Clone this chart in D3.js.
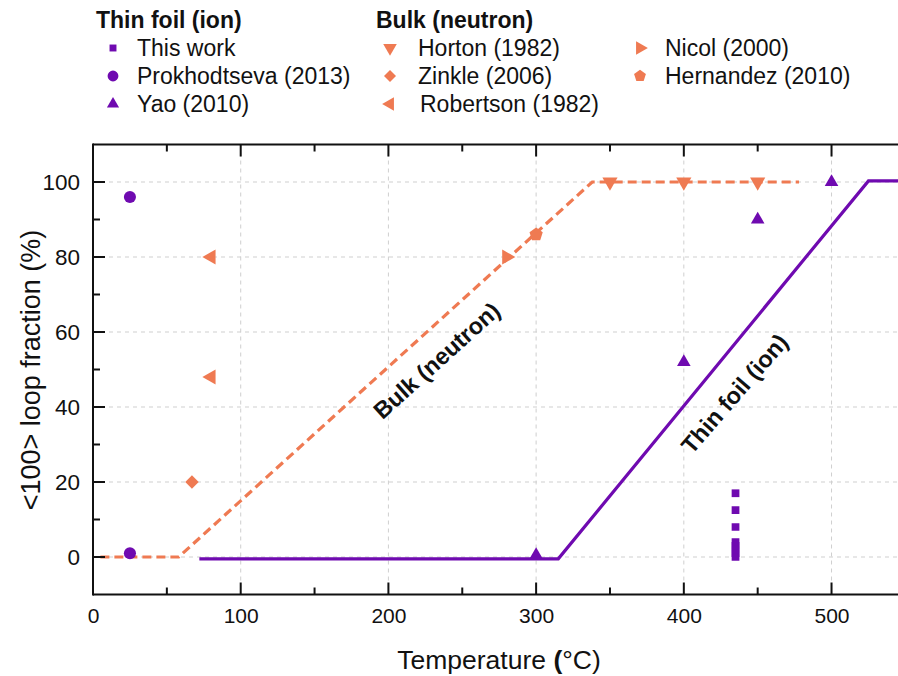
<!DOCTYPE html>
<html>
<head>
<meta charset="utf-8">
<script src="https://cdn.jsdelivr.net/npm/d3@7"></script>
<style>
  html, body { margin: 0; padding: 0; background: #fff; }
  svg { display: block; font-family: "Liberation Sans", Arial, sans-serif; }
</style>
</head>
<body>
<svg id="chart" width="898" height="676"></svg>
<script>
// ---- data ----
const xTicks = [0, 100, 200, 300, 400, 500];
const yTicks = [0, 20, 40, 60, 80, 100];

// thin foil (ion irradiation)
const thisWork = [[435, 0], [435, 1], [435, 2], [435, 3], [435, 4], [435, 8], [435, 12.5], [435, 17]];
const prokhodtseva = [[25, 96], [25, 1]];
const yao = [[300, 0.5], [400, 52], [450, 90], [500, 100]];

// bulk (neutron irradiation)
const horton = [[350, 100], [400, 100], [450, 100]];
const zinkle = [[67, 20]];
const robertson = [[80, 80], [80, 48]];
const nicol = [[280, 80]];
const hernandez = [[300, 86]];

// guide lines
const thinFoilTrend = [[72, -0.5], [315, -0.5], [525, 100.3], [560, 100.3]];
const bulkTrend = [[5, 0], [58, 0], [338, 100], [478, 100]];

const purple = "#6f0ab0";
const orange = "#ef7a52";

// ---- layout ----
const svg = d3.select("#chart");
const x = d3.scaleLinear().domain([0, 545]).range([93, 898]);
const y = d3.scaleLinear().domain([-10, 110]).range([594.5, 144.5]);

svg.append("defs").append("clipPath").attr("id", "plotClip")
  .append("rect").attr("x", 93).attr("y", 144.5).attr("width", 805).attr("height", 450);

// pentagon symbol
const symbolPentagon = {
  draw(ctx, size) {
    const r = Math.sqrt(size / 2.378);
    for (let i = 0; i < 5; i++) {
      const a = -Math.PI / 2 + i * 2 * Math.PI / 5;
      const px = r * Math.cos(a), py = r * Math.sin(a);
      if (i === 0) ctx.moveTo(px, py); else ctx.lineTo(px, py);
    }
    ctx.closePath();
  }
};

// ---- grid ----
const grid = svg.append("g").attr("stroke", "#cfcfcf").attr("stroke-width", 1)
  .attr("stroke-dasharray", "4,4");
grid.selectAll("line.v").data(xTicks.filter(d => d > 0)).join("line")
  .attr("x1", d => x(d)).attr("x2", d => x(d)).attr("y1", y(110)).attr("y2", y(-10));
grid.selectAll("line.h").data(yTicks).join("line")
  .attr("y1", d => y(d)).attr("y2", d => y(d)).attr("x1", x(0)).attr("x2", 898);

// ---- trend lines ----
const line = d3.line().x(d => x(d[0])).y(d => y(d[1]));
const plot = svg.append("g").attr("clip-path", "url(#plotClip)");
plot.append("path").datum(bulkTrend).attr("d", line)
  .attr("fill", "none").attr("stroke", orange).attr("stroke-width", 3.2)
  .attr("stroke-dasharray", "9,5");
plot.append("path").datum(thinFoilTrend).attr("d", line)
  .attr("fill", "none").attr("stroke", purple).attr("stroke-width", 3.2);

// ---- markers ----
const series = [
  { data: thisWork, type: d3.symbolSquare, size: 60, rot: 0, color: purple },
  { data: prokhodtseva, type: d3.symbolCircle, size: 115, rot: 0, color: purple },
  { data: yao, type: d3.symbolTriangle, size: 80, rot: 0, color: purple },
  { data: horton, type: d3.symbolTriangle, size: 100, rot: 180, color: orange },
  { data: zinkle, type: d3.symbolSquare, size: 90, rot: 45, color: orange },
  { data: robertson, type: d3.symbolTriangle, size: 100, rot: -90, color: orange },
  { data: nicol, type: d3.symbolTriangle, size: 100, rot: 90, color: orange },
  { data: hernandez, type: symbolPentagon, size: 115, rot: 0, color: orange }
];
series.forEach(s => {
  plot.append("g").selectAll("path").data(s.data).join("path")
    .attr("transform", d => `translate(${x(d[0])},${y(d[1])}) rotate(${s.rot})`)
    .attr("d", d3.symbol().type(s.type).size(s.size))
    .attr("fill", s.color);
});

// ---- axes ----
const axisW = 2;
const xAxis = svg.append("g").attr("transform", `translate(0,${y(-10)})`)
  .call(d3.axisBottom(x).tickValues(xTicks).tickSize(0).tickPadding(14));
xAxis.select(".domain").remove();
xAxis.selectAll("text").attr("font-size", 21).attr("fill", "#111")
  .attr("font-family", "'Liberation Sans', Arial, sans-serif");

const yAxis = svg.append("g").attr("transform", `translate(${x(0)},0)`)
  .call(d3.axisLeft(y).tickValues(yTicks).tickSize(0).tickPadding(13));
yAxis.select(".domain").remove();
yAxis.selectAll("text").attr("font-size", 22.5).attr("fill", "#111")
  .attr("font-family", "'Liberation Sans', Arial, sans-serif");

const frame = svg.append("g").attr("stroke", "#111").attr("stroke-width", axisW);
// axis lines
frame.append("line").attr("x1", x(0)).attr("x2", 898).attr("y1", y(-10)).attr("y2", y(-10));
frame.append("line").attr("x1", x(0)).attr("x2", 898).attr("y1", y(110)).attr("y2", y(110));
frame.append("line").attr("x1", x(0)).attr("x2", x(0)).attr("y1", y(110) - 1).attr("y2", y(-10) + 1);
// inward ticks: majors and minors
const xMinor = d3.range(50, 545, 100);
const yMinor = d3.range(-10, 111, 20).filter(v => v > -10 && v < 110);
frame.selectAll("line.xb").data(xTicks.filter(d => d > 0)).join("line")
  .attr("x1", d => x(d)).attr("x2", d => x(d)).attr("y1", y(-10)).attr("y2", y(-10) - 12);
frame.selectAll("line.xbm").data(xMinor).join("line")
  .attr("x1", d => x(d)).attr("x2", d => x(d)).attr("y1", y(-10)).attr("y2", y(-10) - 7);
frame.selectAll("line.xt").data(xTicks.filter(d => d > 0)).join("line")
  .attr("x1", d => x(d)).attr("x2", d => x(d)).attr("y1", y(110)).attr("y2", y(110) + 12);
frame.selectAll("line.xtm").data(xMinor).join("line")
  .attr("x1", d => x(d)).attr("x2", d => x(d)).attr("y1", y(110)).attr("y2", y(110) + 7);
frame.selectAll("line.yl").data(yTicks).join("line")
  .attr("y1", d => y(d)).attr("y2", d => y(d)).attr("x1", x(0)).attr("x2", x(0) + 12);
frame.selectAll("line.ylm").data(yMinor).join("line")
  .attr("y1", d => y(d)).attr("y2", d => y(d)).attr("x1", x(0)).attr("x2", x(0) + 7);

// ---- axis titles ----
const xTitle = svg.append("text").attr("x", 499).attr("y", 669)
  .attr("text-anchor", "middle").attr("font-size", 26.5).attr("fill", "#111");
xTitle.append("tspan").text("Temperature ");
xTitle.append("tspan").attr("font-weight", "bold").text("(");
xTitle.append("tspan").text("°C)");

svg.append("text").attr("transform", "translate(40,370) rotate(-90)")
  .attr("text-anchor", "middle").attr("font-size", 27).attr("fill", "#111")
  .text("<100> loop fraction (%)");

// ---- in-plot labels ----
svg.append("text").attr("transform", "translate(438,362) rotate(-42)")
  .attr("text-anchor", "middle").attr("dominant-baseline", "middle")
  .attr("font-size", 23.5).attr("font-weight", "bold").attr("fill", "#111")
  .text("Bulk (neutron)");
svg.append("text").attr("transform", "translate(736,395) rotate(-49)")
  .attr("text-anchor", "middle").attr("dominant-baseline", "middle")
  .attr("font-size", 23.5).attr("font-weight", "bold").attr("fill", "#111")
  .text("Thin foil (ion)");

// ---- legend ----
const legend = svg.append("g").attr("font-size", 23).attr("fill", "#111");
legend.append("text").attr("x", 96).attr("y", 28).attr("font-weight", "bold").text("Thin foil (ion)");
legend.append("text").attr("x", 376).attr("y", 28).attr("font-weight", "bold").text("Bulk (neutron)");

const legendItems = [
  { label: "This work", s: series[0], mx: 113, tx: 137, row: 0 },
  { label: "Prokhodtseva (2013)", s: series[1], mx: 113, tx: 137, row: 1 },
  { label: "Yao (2010)", s: series[2], mx: 113, tx: 137, row: 2 },
  { label: "Horton (1982)", s: series[3], mx: 390, tx: 418, row: 0 },
  { label: "Zinkle (2006)", s: series[4], mx: 390, tx: 418, row: 1 },
  { label: "Robertson (1982)", s: series[5], mx: 390, tx: 420, row: 2 },
  { label: "Nicol (2000)", s: series[6], mx: 640, tx: 665, row: 0 },
  { label: "Hernandez (2010)", s: series[7], mx: 640, tx: 665, row: 1 }
];
const rowY = [48, 76, 104];
legendItems.forEach(it => {
  legend.append("path")
    .attr("transform", `translate(${it.mx},${rowY[it.row]}) rotate(${it.s.rot})`)
    .attr("d", d3.symbol().type(it.s.type).size(it.s.size * 0.8))
    .attr("fill", it.s.color);
  legend.append("text").attr("x", it.tx).attr("y", rowY[it.row] + 8).text(it.label);
});
</script>
</body>
</html>
